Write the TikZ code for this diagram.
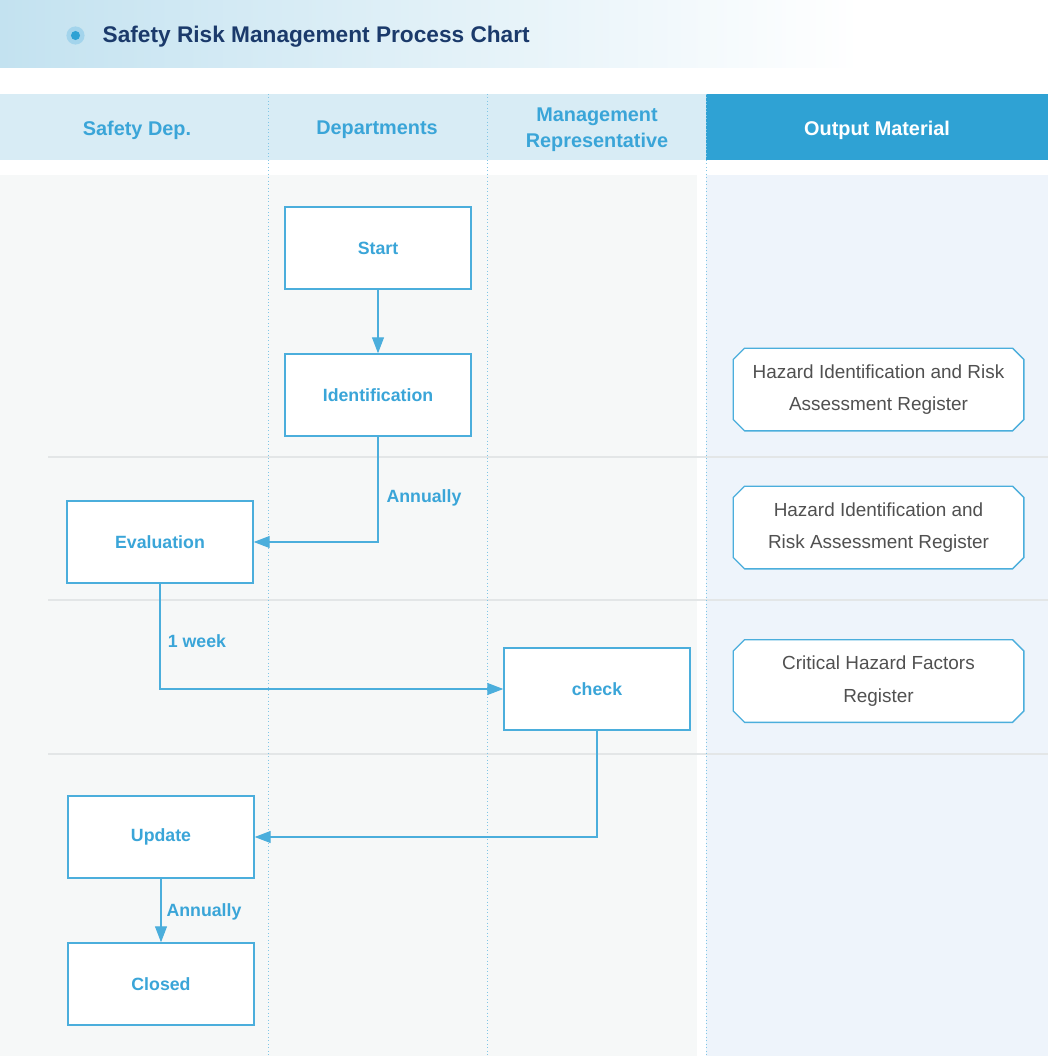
\documentclass[tikz,border=0pt]{standalone}
\usepackage{fontspec}
\setmainfont{Liberation Sans}
\usetikzlibrary{arrows.meta,shapes.misc}
\definecolor{navy}{HTML}{1B3A6B}
\definecolor{hblue}{HTML}{3AA5D8}
\definecolor{hfill}{HTML}{D8ECF5}
\definecolor{dblue}{HTML}{2FA2D4}
\definecolor{bodyL}{HTML}{F6F8F8}
\definecolor{bodyR}{HTML}{EEF4FB}
\definecolor{boxline}{HTML}{4BAEDC}
\definecolor{gline}{HTML}{E3E6E7}
\definecolor{otext}{HTML}{505050}
\definecolor{tband}{HTML}{C3E2F0}
\definecolor{halo}{HTML}{A3D4EC}
\tikzset{
  procbox/.style={draw=boxline,line width=1.1pt,fill=white,minimum width=139.5pt,minimum height=61.5pt,inner sep=0pt,text=hblue,font=\fontsize{13.3}{16}\selectfont\bfseries},
  outbox/.style={chamfered rectangle,chamfered rectangle xsep=5pt,draw=boxline,line width=1pt,fill=white,minimum width=218pt,minimum height=62pt,inner sep=0pt,text=otext,align=center,font=\fontsize{14.2}{24.5}\selectfont},
  hdr/.style={text=hblue,font=\fontsize{14.9}{19.5}\selectfont\bfseries,align=center},
  conn/.style={draw=boxline,line width=0.8pt,-{Triangle[length=12pt,width=9pt]}},
  lbl/.style={text=hblue,font=\fontsize{13.3}{16}\selectfont\bfseries},
  lane/.style={draw=boxline!70,line width=0.6pt,dotted},
  hsep/.style={draw=gline,line width=1.2pt}
}
\begin{document}
\begin{tikzpicture}[x=0.75pt,y=-0.75pt]
\useasboundingbox (0,0) rectangle (1048,1056);
\fill[white] (0,0) rectangle (1048,1056);
% title band
\shade[left color=tband,right color=white] (0,0) rectangle (860,68);
\fill[halo] (75.5,35.5) circle[radius=6.8pt];
\fill[dblue] (75.5,35.5) circle[radius=3.4pt];
\node[anchor=west,text=navy,font=\fontsize{17}{20}\selectfont\bfseries] (title) at (98,37) {Safety Risk Management Process Chart};
% header
\fill[hfill] (0,94) rectangle (706,160);
\fill[dblue] (706,94) rectangle (1048,160);
\node[hdr] (h1) at (137,130) {Safety Dep.};
\node[hdr] (h2) at (377,130) {Departments};
\node[hdr] (h3) at (597,130) {Management\\Representative};
\node[hdr,text=white] (h4) at (877,130) {Output Material};
% body
\fill[bodyL] (0,175) rectangle (697,1056);
\fill[bodyR] (706,175) rectangle (1048,1056);
\draw[hsep] (48,457) -- (1048,457);
\draw[hsep] (48,600) -- (1048,600);
\draw[hsep] (48,754) -- (1048,754);
\draw[lane] (268,94) -- (268,1056);
\draw[lane] (487,94) -- (487,1056);
\draw[lane] (706,94) -- (706,1056);
% process boxes
\node[procbox] (start) at (378,248) {Start};
\node[procbox] (ident) at (378,395) {Identification};
\node[procbox] (eval) at (160,542) {Evaluation};
\node[procbox] (check) at (597,689) {check};
\node[procbox] (update) at (161,837) {Update};
\node[procbox] (closed) at (161,984) {Closed};
% output boxes
\node[outbox] (o1) at (878.5,389.5) {Hazard Identification and Risk\\Assessment Register};
\node[outbox] (o2) at (878.5,527.5) {Hazard Identification and\\Risk Assessment Register};
\node[outbox] (o3) at (878.5,681) {Critical Hazard Factors\\Register};
% connectors
\draw[conn] (start) -- (ident);
\draw[conn] (ident.south) |- (eval.east);
\draw[conn] (eval.south) |- (check.west);
\draw[conn] (check.south) |- (update.east);
\draw[conn] (update) -- (closed);
\node[lbl] (l1) at (424,498) {Annually};
\node[lbl] (l2) at (197,641) {1 week};
\node[lbl] (l3) at (204,912) {Annually};
\end{tikzpicture}
\end{document}
